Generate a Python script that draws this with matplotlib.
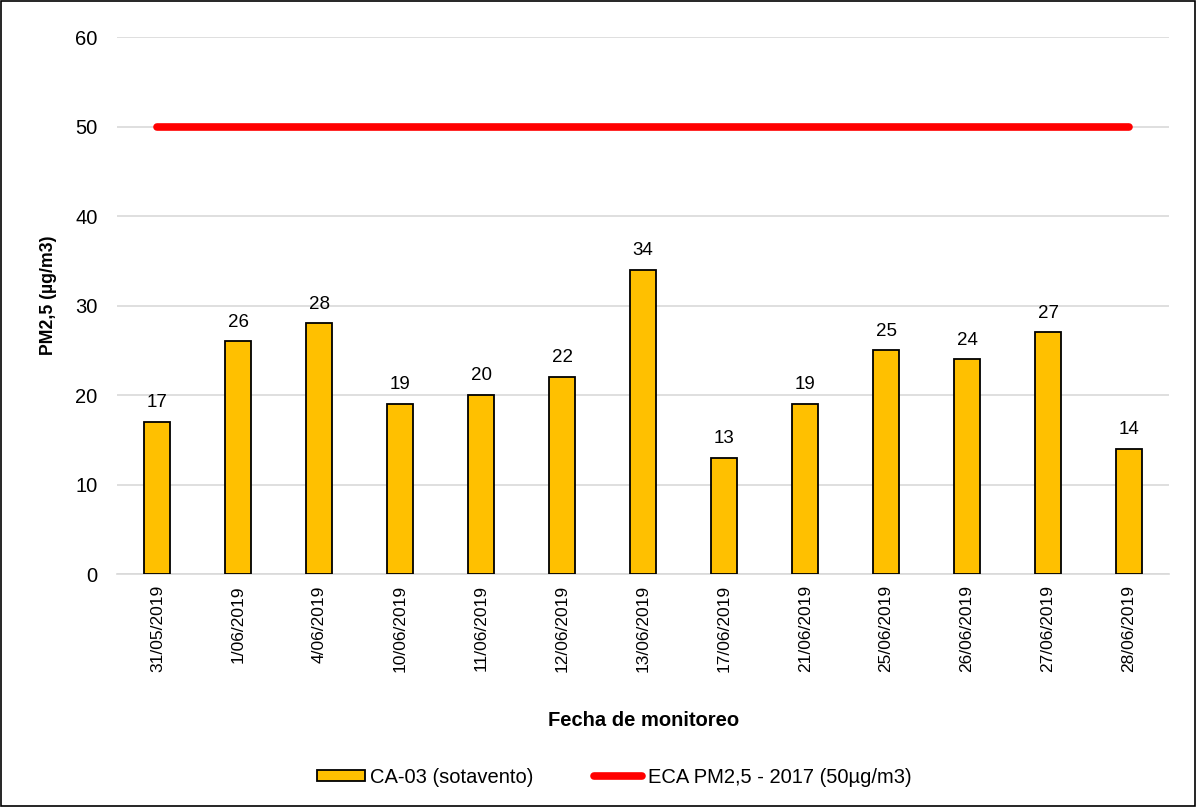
import matplotlib.pyplot as plt
from matplotlib.patches import Rectangle

plt.rcParams['font.family'] = ['Liberation Sans', 'DejaVu Sans']

fechas = ['31/05/2019', '1/06/2019', '4/06/2019', '10/06/2019', '11/06/2019',
          '12/06/2019', '13/06/2019', '17/06/2019', '21/06/2019', '25/06/2019',
          '26/06/2019', '27/06/2019', '28/06/2019']
pm25 = [17, 26, 28, 19, 20, 22, 34, 13, 19, 25, 24, 27, 14]
eca = [50] * len(fechas)

fig = plt.figure(figsize=(11.97, 8.07), dpi=100)
fig.patches.append(Rectangle((0.0005, 0.0008), 0.998, 0.998, transform=fig.transFigure,
                             fill=False, edgecolor='black', linewidth=1.2))
ax = fig.add_axes([0.0977, 0.2887, 0.8793, 0.6653])

x = list(range(len(fechas)))
bars = ax.bar(x, pm25, width=0.32, color='#FFC000', edgecolor='black', linewidth=1.3,
              zorder=3, label='CA-03 (sotavento)')
linea, = ax.plot(x, eca, color='#FF0000', linewidth=5.5, solid_capstyle='round', zorder=4,
                 label='ECA PM2,5 - 2017 (50µg/m3)')

for xi, v in zip(x, pm25):
    ax.text(xi, v + 1.2, str(v), ha='center', va='bottom', fontsize=13.5)

ax.set_xlim(-0.5, len(fechas) - 0.5)
ax.set_ylim(0, 60)
ax.set_yticks(range(0, 61, 10))
ax.set_xticks(x)
ax.set_xticklabels(fechas, rotation=90, fontsize=12.5)
ax.tick_params(axis='y', labelsize=14.5, length=0, pad=14)
ax.tick_params(axis='x', length=0, pad=8)
ax.grid(axis='y', color='#D9D9D9', linewidth=1.2, zorder=0)
for s in ['top', 'right', 'left']:
    ax.spines[s].set_visible(False)
ax.spines['bottom'].set_color('#D9D9D9')
ax.spines['bottom'].set_linewidth(1.2)

ax.set_ylabel('PM2,5 (µg/m3)', fontsize=12.8, fontweight='bold')
ax.yaxis.set_label_coords(-0.057, 0.52)
ax.set_xlabel('Fecha de monitoreo', fontsize=14.5, fontweight='bold', labelpad=28)

fig.legend([bars, linea], ['CA-03 (sotavento)', 'ECA PM2,5 - 2017 (50µg/m3)'],
           loc='center', bbox_to_anchor=(0.513, 0.037), ncol=2, frameon=False,
           fontsize=14.5, handlelength=2.4, handleheight=0.5, columnspacing=3,
           handletextpad=0.25)

fig.savefig('out.png', dpi=100)
